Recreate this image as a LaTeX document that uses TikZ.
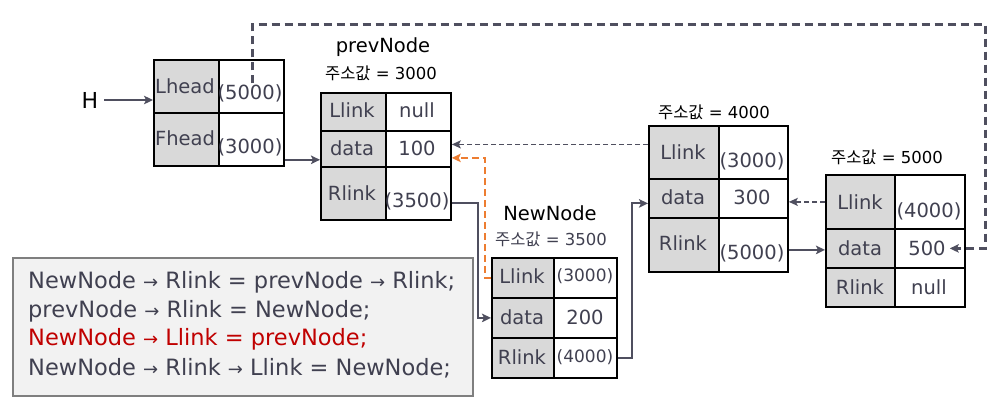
\documentclass[tikz,border=0pt]{standalone}
\usepackage{fontspec}
\setmainfont{DejaVu Sans}
\newfontfamily\kr{Noto Sans CJK KR}
\newfontfamily\arrowfont{DejaVu Sans}
\usetikzlibrary{arrows.meta}
\definecolor{tx}{HTML}{404050}
\definecolor{ln}{HTML}{4F4F5F}
\definecolor{cg}{HTML}{D9D9D9}
\definecolor{og}{HTML}{ED7D31}
\definecolor{rd}{HTML}{C00000}
\definecolor{bx}{HTML}{F2F2F2}
\definecolor{bxl}{HTML}{7F7F7F}
\newcommand\rarr{{\arrowfont\fontsize{18}{20}\selectfont →}}
\tikzset{
 cellk/.style={draw=black, line width=1.8pt, fill=cg, inner sep=0pt, anchor=north west},
 cellv/.style={draw=black, line width=1.8pt, fill=white, inner sep=0pt, anchor=north west},
 ct/.style={text=tx, font=\fontsize{19.5}{23}\selectfont, inner sep=0pt},
 cts/.style={text=tx, font=\fontsize{17}{20}\selectfont, inner sep=0pt},
 ttl/.style={font=\fontsize{19.5}{22}\selectfont, inner sep=0pt},
 addr/.style={font=\fontsize{16.5}{20}\selectfont, inner sep=0pt},
 link/.style={draw=ln, line width=2pt, -{Stealth[length=9pt,width=8.5pt,inset=2pt]}},
 dlink/.style={draw=ln, line width=1.8pt, dash pattern=on 5pt off 3pt, -{Stealth[length=9pt,width=8pt,inset=2pt]}},
 olink/.style={draw=og, line width=2.5pt, dash pattern=on 7pt off 4pt, -{Stealth[length=9pt,width=8.5pt,inset=2pt]}},
 blink/.style={draw=ln, line width=3pt, dash pattern=on 8pt off 5pt, -{Stealth[length=9pt,width=8.5pt,inset=2pt]}},
 code/.style={text=tx, font=\fontsize{22.5}{26}\selectfont, inner sep=0pt, anchor=west},
}
\begin{document}
\begin{tikzpicture}[x=1pt,y=-1pt]
\useasboundingbox (0,0) rectangle (999,408);
% code box
\node[draw=bxl, line width=1.5pt, fill=bx, anchor=north west, minimum width=460pt, minimum height=138pt, inner sep=0pt] (box) at (12,257) {};
\node[code] (c1) at (28,282) {NewNode \rarr{} Rlink = prevNode \rarr{} Rlink;};
\node[code] (c2) at (28,311) {prevNode \rarr{} Rlink = NewNode;};
\node[code, text=rd] (c3) at (28,339) {NewNode \rarr{} Llink = prevNode;};
\node[code] (c4) at (28,368) {NewNode \rarr{} Rlink \rarr{} Llink = NewNode;};

% head table
\node[font=\fontsize{22}{26}\selectfont, inner sep=0pt] (H) at (90,100) {H};
\node[cellk, minimum width=65pt, minimum height=53pt] (hL1) at (153,59) {};
\node[cellv, minimum width=65pt, minimum height=53pt] (hL2) at (218,59) {};
\node[cellk, minimum width=65pt, minimum height=53pt] (hF1) at (153,112) {};
\node[cellv, minimum width=65pt, minimum height=53pt] (hF2) at (218,112) {};
\node[ct] (tLh) at (185,86) {Lhead};
\node[ct] (tLv) at (250,93) {(5000)};
\node[ct] (tFh) at (185,138) {Fhead};
\node[ct] (tFv) at (250,147) {(3000)};

% prevNode
\node[ttl] (pT) at (383,47) {prevNode};
\node[addr] (pA) at (381,73) {{\kr 주소값} = 3000};
\node[cellk, minimum width=65pt, minimum height=38pt] (pL1) at (320,92) {};
\node[cellv, minimum width=65pt, minimum height=38pt] (pL2) at (385,92) {};
\node[cellk, minimum width=65pt, minimum height=36pt] (pD1) at (320,130) {};
\node[cellv, minimum width=65pt, minimum height=36pt] (pD2) at (385,130) {};
\node[cellk, minimum width=65pt, minimum height=53pt] (pR1) at (320,166) {};
\node[cellv, minimum width=65pt, minimum height=53pt] (pR2) at (385,166) {};
\node[ct] (tpL1) at (352,110) {Llink};
\node[ct] (tpL2) at (417,110) {null};
\node[ct] (tpD1) at (352,148) {data};
\node[ct] (tpD2) at (417,148) {100};
\node[ct] (tpR1) at (352,193) {Rlink};
\node[ct] (tpR2) at (417,201) {(3500)};

% NewNode
\node[ttl] (nT) at (550,213) {NewNode};
\node[addr, text=tx] (nA) at (551,239) {{\kr 주소값} = 3500};
\node[cellk, minimum width=62pt, minimum height=40pt] (nL1) at (491,257) {};
\node[cellv, minimum width=63pt, minimum height=40pt] (nL2) at (553,257) {};
\node[cellk, minimum width=62pt, minimum height=40pt] (nD1) at (491,297) {};
\node[cellv, minimum width=63pt, minimum height=40pt] (nD2) at (553,297) {};
\node[cellk, minimum width=62pt, minimum height=40pt] (nR1) at (491,337) {};
\node[cellv, minimum width=63pt, minimum height=40pt] (nR2) at (553,337) {};
\node[ct] (tnL1) at (522,276) {Llink};
\node[cts] (tnL2) at (585,276) {(3000)};
\node[ct] (tnD1) at (522,317) {data};
\node[ct] (tnD2) at (585,317) {200};
\node[ct] (tnR1) at (522,357) {Rlink};
\node[cts] (tnR2) at (585,357) {(4000)};

% node 4000
\node[addr] (qA) at (714,112) {{\kr 주소값} = 4000};
\node[cellk, minimum width=70pt, minimum height=53pt] (qL1) at (648,125) {};
\node[cellv, minimum width=69pt, minimum height=53pt] (qL2) at (718,125) {};
\node[cellk, minimum width=70pt, minimum height=39pt] (qD1) at (648,178) {};
\node[cellv, minimum width=69pt, minimum height=39pt] (qD2) at (718,178) {};
\node[cellk, minimum width=70pt, minimum height=54pt] (qR1) at (648,217) {};
\node[cellv, minimum width=69pt, minimum height=54pt] (qR2) at (718,217) {};
\node[ct] (tqL1) at (683,152) {Llink};
\node[ct] (tqL2) at (752,161) {(3000)};
\node[ct] (tqD1) at (683,197) {data};
\node[ct] (tqD2) at (752,197) {300};
\node[ct] (tqR1) at (683,243) {Rlink};
\node[ct] (tqR2) at (752,253) {(5000)};

% node 5000
\node[addr] (rA) at (887,157) {{\kr 주소값} = 5000};
\node[cellk, minimum width=69pt, minimum height=54pt] (rL1) at (825,174) {};
\node[cellv, minimum width=70pt, minimum height=54pt] (rL2) at (894,174) {};
\node[cellk, minimum width=69pt, minimum height=39pt] (rD1) at (825,228) {};
\node[cellv, minimum width=70pt, minimum height=39pt] (rD2) at (894,228) {};
\node[cellk, minimum width=69pt, minimum height=39pt] (rR1) at (825,267) {};
\node[cellv, minimum width=70pt, minimum height=39pt] (rR2) at (894,267) {};
\node[ct] (trL1) at (860,202) {Llink};
\node[ct] (trL2) at (929,211) {(4000)};
\node[ct] (trD1) at (860,248) {data};
\node[ct] (trD2) at (927,248) {500};
\node[ct] (trR1) at (860,287) {Rlink};
\node[ct] (trR2) at (929,287) {null};

% connectors
\draw[link] (H.east) ++(6pt,0) coordinate (hs) -- (hs -| hL1.west);
\draw[link] ([yshift=7pt]hF2.south east) -- ([yshift=7pt]hF2.south east -| pD1.west);
\draw[link] ([yshift=-10pt]pR2.east) -- ++(26,0) |- (nD1.west);
\draw[link] (nR2.east) -- ++(14,0) |- ([yshift=-5pt]qD1.west);
\draw[dlink] ([yshift=8pt]qL1.west) -- ([yshift=8pt]qL1.west -| pD2.east);
\draw[olink] (nL1.west) -- ++(-6,0) |- ([yshift=-9pt]pD2.east);
\draw[link] ([yshift=-5pt]qR2.east) -- ([yshift=-5pt]qR2.east -| rD1.west);
\draw[dlink] (rL1.west) -- (rL1.west -| qD2.east);
\coordinate (topR) at (985,24);
\draw[blink] ([xshift=1.5pt,yshift=3pt]hL2.center) |- (topR) |- ([xshift=-16pt]rD2.east);
\end{tikzpicture}
\end{document}
